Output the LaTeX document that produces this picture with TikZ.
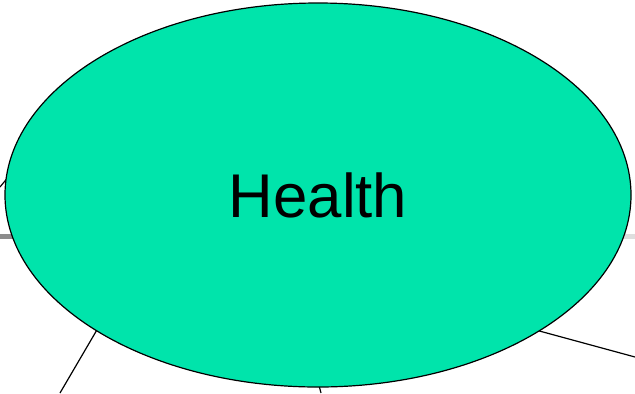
\documentclass[tikz,border=0pt]{standalone}
\usepackage{fontspec}
\setmainfont{Liberation Sans}
\usetikzlibrary{shapes.geometric}
\pgfdeclarelayer{background}
\pgfsetlayers{background,main}
\definecolor{healthgreen}{HTML}{00E4AB}
\definecolor{grayA}{HTML}{8C8C8C}
\definecolor{grayB}{HTML}{DEDEDE}
\tikzset{
  bubble/.style={ellipse, draw=black, line width=1.2pt, fill=healthgreen, minimum width=626bp, minimum height=384bp, inner sep=0pt},
  link/.style={draw=black, line width=1.2pt},
  rule/.style={line width=5bp}
}
\begin{document}
\begin{tikzpicture}[x=1bp,y=-1bp]
\useasboundingbox (0,0) rectangle (635,393);
\node[bubble] (health) at (318,195) {\fontsize{62}{70}\selectfont Health};
\coordinate (l1a) at (0,187);
\coordinate (l1b) at (14,170);
\coordinate (l2a) at (60,393);
\coordinate (l2b) at (108,311);
\coordinate (l3a) at (635,357);
\coordinate (l3b) at (510,323);
\coordinate (l4a) at (321,393);
\coordinate (l4b) at (317,378);
\coordinate (g1a) at (0,236.5);
\coordinate (g1b) at (30,236.5);
\coordinate (g2a) at (635,236.5);
\coordinate (g2b) at (605,236.5);
\begin{pgfonlayer}{background}
\draw[rule, grayA] (g1a) -- (g1b);
\draw[rule, grayB] (g2a) -- (g2b);
\draw[link] (l1a) -- (l1b);
\draw[link] (l2a) -- (l2b);
\draw[link] (l3a) -- (l3b);
\draw[link] (l4a) -- (l4b);
\end{pgfonlayer}
\end{tikzpicture}
\end{document}
